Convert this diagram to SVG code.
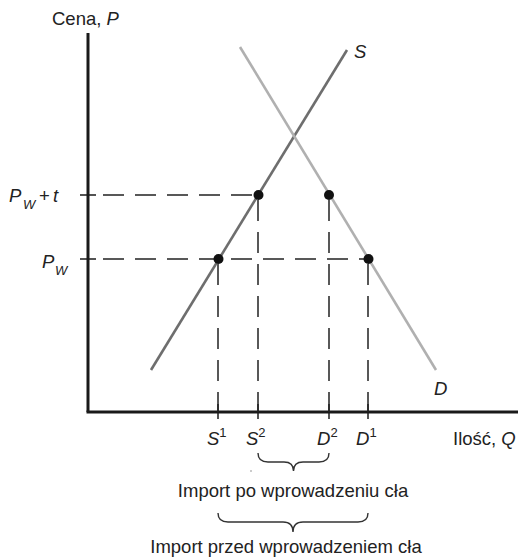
<svg xmlns="http://www.w3.org/2000/svg" width="520" height="557" viewBox="0 0 520 557">
<style>
text{font-family:"Liberation Sans",Arial,sans-serif;font-size:18.5px;fill:#222}
.it{font-style:italic}
.sm{font-size:13px}
.axis{stroke:#1a1a1a;stroke-width:3;fill:none}
.tick{stroke:#1a1a1a;stroke-width:1.5}
.dash{stroke:#222;stroke-width:1.5;stroke-dasharray:21 11;fill:none}
.brace{stroke:#333;stroke-width:1.4;fill:none}
.pt{fill:#111}
</style>
<rect width="520" height="557" fill="#fff"/>
<g id="axes">
  <line class="axis" x1="88" y1="33" x2="88" y2="412"/>
  <line class="axis" x1="86.5" y1="412" x2="518" y2="412"/>
  <line class="tick" x1="80" y1="195" x2="96" y2="195"/>
  <line class="tick" x1="80" y1="259" x2="96" y2="259"/>
  <line class="tick" x1="218" y1="404" x2="218" y2="419"/>
  <line class="tick" x1="258" y1="404" x2="258" y2="419"/>
  <line class="tick" x1="329" y1="404" x2="329" y2="419"/>
  <line class="tick" x1="368" y1="404" x2="368" y2="419"/>
  <text x="52" y="25">Cena, <tspan class="it">P</tspan></text>
  <text x="453" y="445">Ilość, <tspan class="it">Q</tspan></text>
</g>
<g id="connectors">
  <line class="dash" x1="103" y1="195" x2="258" y2="195"/>
  <line class="dash" x1="103" y1="259" x2="368" y2="259"/>
  <line class="dash" x1="218" y1="264" x2="218" y2="412"/>
  <line class="dash" x1="258" y1="200" x2="258" y2="412"/>
  <line class="dash" x1="329" y1="200" x2="329" y2="412"/>
  <line class="dash" x1="368" y1="264" x2="368" y2="412"/>
</g>
<g id="curve-S">
  <line x1="151" y1="370" x2="347" y2="50" stroke="#6e6e6e" stroke-width="2.6"/>
  <text class="it" x="354" y="58">S</text>
</g>
<g id="curve-D">
  <line x1="240" y1="47" x2="436" y2="370" stroke="#b0b0b0" stroke-width="2.6"/>
  <text class="it" x="434" y="395">D</text>
</g>
<g id="points">
  <circle class="pt" cx="218.5" cy="259" r="5"/>
  <circle class="pt" cx="258.5" cy="195" r="5"/>
  <circle class="pt" cx="329" cy="195" r="5"/>
  <circle class="pt" cx="368.5" cy="259" r="5"/>
</g>
<g id="price-labels">
  <text class="it" x="9" y="202">P<tspan class="sm" x="23" y="209">W</tspan><tspan x="39" y="202" font-style="normal">+</tspan><tspan x="53" y="202">t</tspan></text>
  <text class="it" x="42" y="268">P<tspan class="sm" x="55" y="275">W</tspan></text>
</g>
<g id="quantity-labels">
  <text class="it" x="207" y="445">S<tspan class="sm" font-style="normal" dy="-8">1</tspan></text>
  <text class="it" x="246" y="445">S<tspan class="sm" font-style="normal" dy="-8">2</tspan></text>
  <text class="it" x="317" y="445">D<tspan class="sm" font-style="normal" dy="-8">2</tspan></text>
  <text class="it" x="356" y="445">D<tspan class="sm" font-style="normal" dy="-8">1</tspan></text>
</g>
<g id="brace-after">
  <path class="brace" d="M258,453 Q258,462 268,462 L284,462 Q293.5,462 293.5,471 Q293.5,462 303,462 L319,462 Q329,462 329,453"/>
  <circle cx="251" cy="471" r="0.8" fill="#888"/>
  <text x="293" y="497" text-anchor="middle">Import po wprowadzeniu cła</text>
</g>
<g id="brace-before">
  <path class="brace" d="M218,513 Q218,522 228,522 L283,522 Q293,522 293,532 Q293,522 303,522 L358,522 Q368,522 368,513"/>
  <text x="286" y="553" text-anchor="middle">Import przed wprowadzeniem cła</text>
</g>
</svg>
